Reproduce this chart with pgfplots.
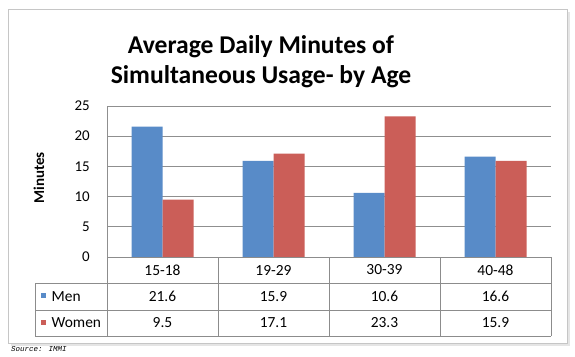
\documentclass[border=0pt]{standalone}
\usepackage{pgfplots}
\pgfplotsset{compat=1.18}
\usepackage{fontspec}
\setmainfont{Carlito}
\newfontfamily\srcfont{Liberation Mono}
\definecolor{menc}{RGB}{88,139,200}
\definecolor{womenc}{RGB}{203,94,88}
\definecolor{gridc}{HTML}{8F8F8F}
\definecolor{tabc}{HTML}{8C8C8C}
\begin{document}
\begin{tikzpicture}[x=1bp,y=1bp]
\path[use as bounding box] (0,0) rectangle (575,356);
\fill[white] (0,0) rectangle (575,356);
% frame with shadow
\draw[gray!20, line width=2.5bp] (11,11.5) -- (568.5,11.5) -- (568.5,344);
\draw[gray!45, line width=0.8bp, fill=white] (8,13) rectangle (567,347);
% title
\node[anchor=base, font=\bfseries\fontsize{25.7}{30}\selectfont, inner sep=0pt] at (261,303) {Average Daily Minutes of};
\node[anchor=base, font=\bfseries\fontsize{25.7}{30}\selectfont, inner sep=0pt] at (261,273) {Simultaneous Usage- by Age};
\begin{axis}[
  at={(107bp,99bp)}, anchor=south west,
  scale only axis, width=444bp, height=151bp,
  xmin=-0.5, xmax=3.5, ymin=0, ymax=25,
  ybar=0pt, bar width=31bp,
  axis line style={draw=none},
  tick style={draw=none},
  xtick=\empty,
  ytick={0,5,10,15,20,25},
  ymajorgrids, grid style={gridc, line width=0.8bp},
  /pgf/number format/assume math mode=true,
  yticklabel style={anchor=east, inner sep=0pt, xshift=-17bp, font=\fontsize{15}{16}\selectfont},
  clip=false,
]
\addplot[fill=menc, draw=none] coordinates {(0,21.6) (1,15.9) (2,10.6) (3,16.6)};
\addplot[fill=womenc, draw=none] coordinates {(0,9.5) (1,17.1) (2,23.3) (3,15.9)};
\end{axis}
% y label
\node[rotate=90, font=\bfseries\fontsize{15}{16}\selectfont] at (39,178) {Minutes};
% data table lines
\begin{scope}[tabc, line width=0.8bp]
\draw[gridc] (107,99) -- (107,250);
\draw (107,99) -- (551,99);
\draw (35,73) -- (551,73);
\draw (35,46) -- (551,46);
\draw (35,20) -- (551,20);
\foreach \xx in {107,218,329,440,551} { \draw (\xx,99) -- (\xx,20); }
\draw (35,73) -- (35,20);
\end{scope}
% table text
\begin{scope}[font=\fontsize{15.5}{16}\selectfont]
\foreach \lab [count=\i from 0] in {15-18,19-29,30-39,40-48} { \node at (162.5+111*\i,86) {\lab}; }
\foreach \v [count=\i from 0] in {21.6,15.9,10.6,16.6} { \node at (162.5+111*\i,59.5) {\v}; }
\foreach \v [count=\i from 0] in {9.5,17.1,23.3,15.9} { \node at (162.5+111*\i,33) {\v}; }
\fill[menc] (40.5,58) rectangle (46,63.5);
\fill[womenc] (40.5,31) rectangle (46,36.5);
\node[anchor=west, inner sep=0pt] at (51.5,59.5) {Men};
\node[anchor=west, inner sep=0pt] at (51.5,33) {Women};
\end{scope}
\node[anchor=west, inner sep=0pt, font=\srcfont\itshape\fontsize{7.5}{8}\selectfont] at (11,7) {Source: IMMI};
\end{tikzpicture}
\end{document}
